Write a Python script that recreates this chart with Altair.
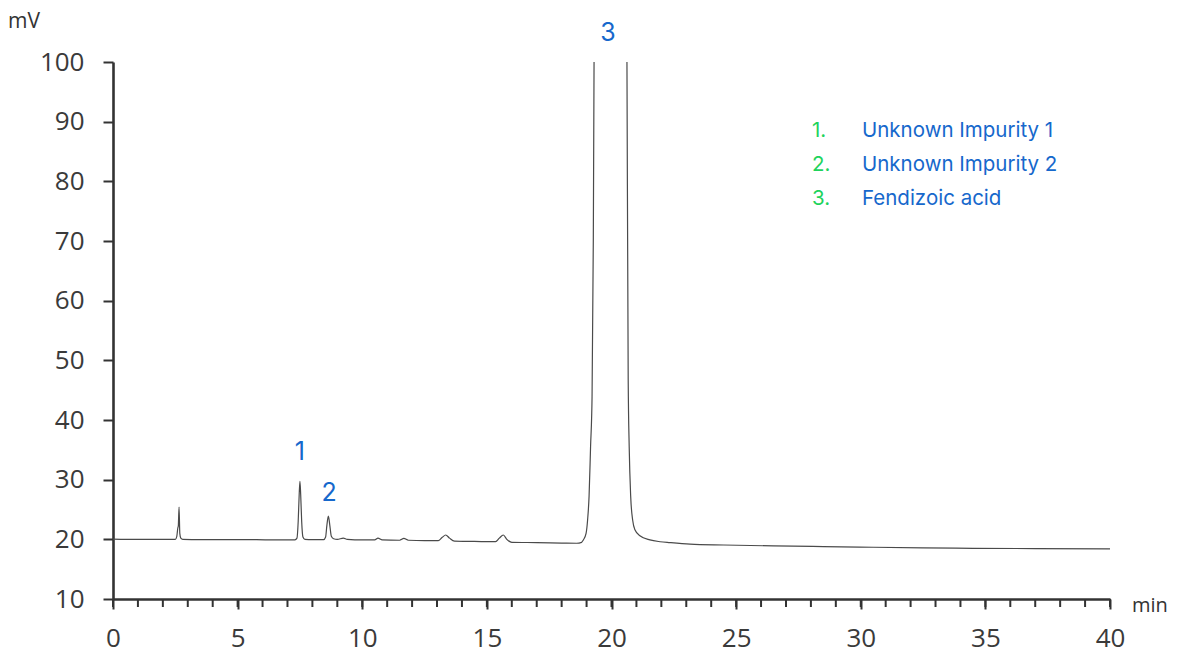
import altair as alt
import pandas as pd

# Chromatogram trace (minutes, mV)
time_min = [0.0, 1.0, 2.0, 2.50, 2.56, 2.60, 2.62, 2.65, 2.68, 2.72, 2.80, 3.5, 5.0, 6.5,
            7.3, 7.38, 7.43, 7.47, 7.50, 7.53, 7.57, 7.62, 7.7, 8.0,
            8.45, 8.53, 8.58, 8.64, 8.70, 8.76, 8.85, 9.0, 9.24, 9.4,
            10.0, 10.5, 10.63, 10.8, 11.5, 11.67, 11.85, 12.5, 13.05, 13.2, 13.35, 13.5, 13.7,
            14.5, 15.35, 15.5, 15.66, 15.8, 16.0, 17.0, 18.0, 18.6, 18.8, 18.87, 18.98,
            19.04, 19.10, 19.16, 19.22, 19.27, 19.30, 19.33, 19.95, 20.58, 20.62, 20.67,
            20.71, 20.77, 20.85, 20.94, 21.14, 21.54, 21.95, 22.35, 23.15, 24.5, 26.5,
            28.5, 30.5, 32.5, 34.5, 37.0, 40.0]
signal_mv = [20.05, 20.0, 20.0, 20.0, 20.5, 21.9, 22.2, 25.4, 21.0, 20.2, 20.0, 19.95, 19.95, 19.92,
             19.92, 20.2, 23.0, 27.5, 29.7, 27.5, 23.0, 20.4, 20.0, 19.95,
             19.95, 20.4, 22.3, 23.9, 22.3, 20.5, 20.1, 20.0, 20.2, 20.0,
             19.9, 19.9, 20.2, 19.9, 19.85, 20.15, 19.85, 19.8, 19.8, 20.3, 20.73, 20.2, 19.7,
             19.65, 19.6, 20.2, 20.73, 20.0, 19.5, 19.45, 19.38, 19.34, 19.5, 19.9, 21.0,
             23.2, 27.2, 35.5, 43.9, 70.0, 100.0, 140.0, 450.0, 140.0, 100.0, 46.7,
             35.5, 27.2, 23.2, 21.6, 20.6, 19.9, 19.6, 19.45, 19.2, 19.05, 18.9,
             18.78, 18.67, 18.58, 18.5, 18.45, 18.4]

# Peak labels
peak_labels = ["1", "2", "3"]
peak_label_time = [7.5, 8.67, 19.86]
peak_label_mv = [34.6, 27.7, 104.9]

# Legend entries
legend_nums = ["1.", "2.", "3."]
legend_names = ["Unknown Impurity 1", "Unknown Impurity 2", "Fendizoic acid"]

x_major_ticks = [0, 5, 10, 15, 20, 25, 30, 35, 40]
x_minor_ticks = list(range(0, 41))
y_tick_values = [10, 20, 30, 40, 50, 60, 70, 80, 90, 100]

trace = pd.DataFrame({"t": time_min, "mv": signal_mv})
peaks = pd.DataFrame({"label": peak_labels, "t": peak_label_time, "mv": peak_label_mv})
minor = pd.DataFrame({"t": x_minor_ticks})

BLUE = "#1668cc"
GREEN = "#1fd35c"
AX = "#333333"

xscale = alt.Scale(domain=[0, 40], nice=False, zero=False)
yscale = alt.Scale(domain=[10, 100], nice=False, zero=False)

xaxis = alt.Axis(values=x_major_ticks, title=None, grid=False,
                 labelOverlap=False,
                 tickSize=10, tickWidth=2, tickColor=AX,
                 domainColor=AX, domainWidth=2.6,
                 labelFont="Open Sans", labelFontSize=26, labelColor="#3a3a3a",
                 labelPadding=16, labelFlush=False)
yaxis = alt.Axis(values=y_tick_values, title=None, grid=False,
                 labelOverlap=False,
                 tickSize=10, tickWidth=2, tickColor=AX,
                 domainColor=AX, domainWidth=2.6,
                 labelFont="Open Sans", labelFontSize=26, labelColor="#3a3a3a",
                 labelPadding=19, labelFlush=False)

line = alt.Chart(trace).mark_line(color="#4a4a4a", strokeWidth=1.2, clip=True,
                                  interpolate="monotone").encode(
    x=alt.X("t:Q", scale=xscale, axis=xaxis),
    y=alt.Y("mv:Q", scale=yscale, axis=yaxis),
)

minor_ticks = alt.Chart(minor).mark_rule(color=AX, strokeWidth=2).encode(
    x=alt.X("t:Q", scale=xscale),
    y=alt.value(537),
    y2=alt.value(545),
)

peak_text = alt.Chart(peaks).mark_text(color=BLUE, font="Inter", fontSize=25,
                                       baseline="middle", align="center").encode(
    x=alt.X("t:Q", scale=xscale),
    y=alt.Y("mv:Q", scale=yscale),
    text="label:N",
)

layers = [line, minor_ticks, peak_text]
for i, (num, name) in enumerate(zip(legend_nums, legend_names)):
    row_y = 69 + 34 * i
    layers.append(
        alt.Chart(pd.DataFrame({"s": [num]})).mark_text(
            color=GREEN, font="Inter", fontSize=20.5, align="left", baseline="middle"
        ).encode(x=alt.value(699), y=alt.value(row_y), text="s:N")
    )
    layers.append(
        alt.Chart(pd.DataFrame({"s": [name]})).mark_text(
            color=BLUE, font="Inter", fontSize=20.5, align="left", baseline="middle"
        ).encode(x=alt.value(749), y=alt.value(row_y), text="s:N")
    )

layers.append(alt.Chart(pd.DataFrame({"s": ["mV"]})).mark_text(
    color="#333333", font="Open Sans", fontSize=21, align="left", baseline="alphabetic"
).encode(x=alt.value(-105), y=alt.value(-34), text="s:N"))
layers.append(alt.Chart(pd.DataFrame({"s": ["min"]})).mark_text(
    color="#333333", font="Open Sans", fontSize=20, align="left", baseline="alphabetic"
).encode(x=alt.value(1019), y=alt.value(550), text="s:N"))

chart = alt.layer(*layers).properties(
    width=997, height=537,
    autosize=alt.AutoSizeParams(type="none"),
    padding={"left": 105, "top": 54, "right": 60, "bottom": 50},
    background="white",
).configure_view(stroke=None)

chart.save("out.html", embed_options={"renderer": "svg", "actions": False})
